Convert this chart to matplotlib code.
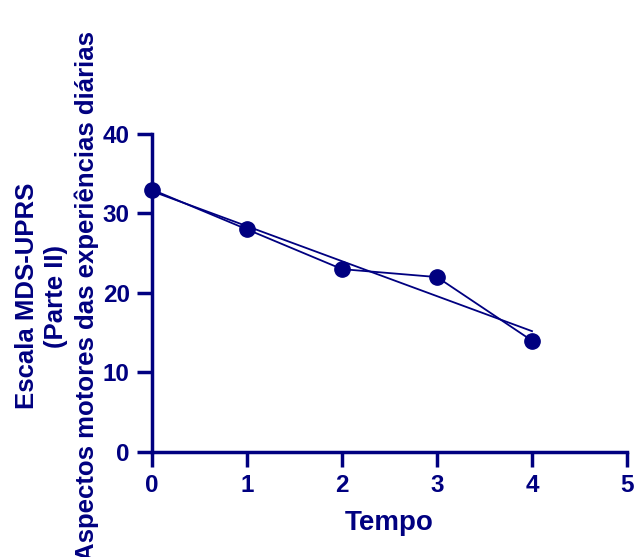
import numpy as np
import matplotlib.pyplot as plt

# dados
tempo = [0, 1, 2, 3, 4]
escala = [33, 28, 23, 22, 14]
x_ticks = [0, 1, 2, 3, 4, 5]
y_ticks = [0, 10, 20, 30, 40]

cor = '#000080'
plt.rcParams['font.family'] = ['Liberation Sans', 'DejaVu Sans']
plt.rcParams['font.weight'] = 'bold'

fig = plt.figure(figsize=(6.35, 5.57), dpi=100)
ax = fig.add_axes([0.2394, 0.1885, 0.748, 0.571])

# pontos ligados
ax.plot(tempo, escala, color=cor, lw=1.3, marker='o', ms=11, zorder=3, clip_on=False)

# reta de regressão
coef = np.polyfit(tempo, escala, 1)
xr = np.array([tempo[0], tempo[-1]])
ax.plot(xr, np.polyval(coef, xr), color=cor, lw=1.3, zorder=2)

ax.set_xlim(0, 5)
ax.set_ylim(0, 40)
ax.set_xticks(x_ticks)
ax.set_yticks(y_ticks)
for s in ['top', 'right']:
    ax.spines[s].set_visible(False)
for s in ['left', 'bottom']:
    ax.spines[s].set_color(cor)
    ax.spines[s].set_linewidth(2.5)
ax.tick_params(colors=cor, width=2.5, length=11, labelsize=17.5, pad=5)
for lab in ax.get_xticklabels() + ax.get_yticklabels():
    lab.set_fontweight('bold')

ax.set_xlabel('Tempo', color=cor, fontsize=20, fontweight='bold', labelpad=9)
ax.set_ylabel('Escala MDS-UPRS\n(Parte II)\nAspectos motores das experiências diárias',
              color=cor, fontsize=18.5, fontweight='bold', labelpad=3, linespacing=1.3)
ax.yaxis.label.set_y(0.49)

fig.savefig('out.png', dpi=100)
